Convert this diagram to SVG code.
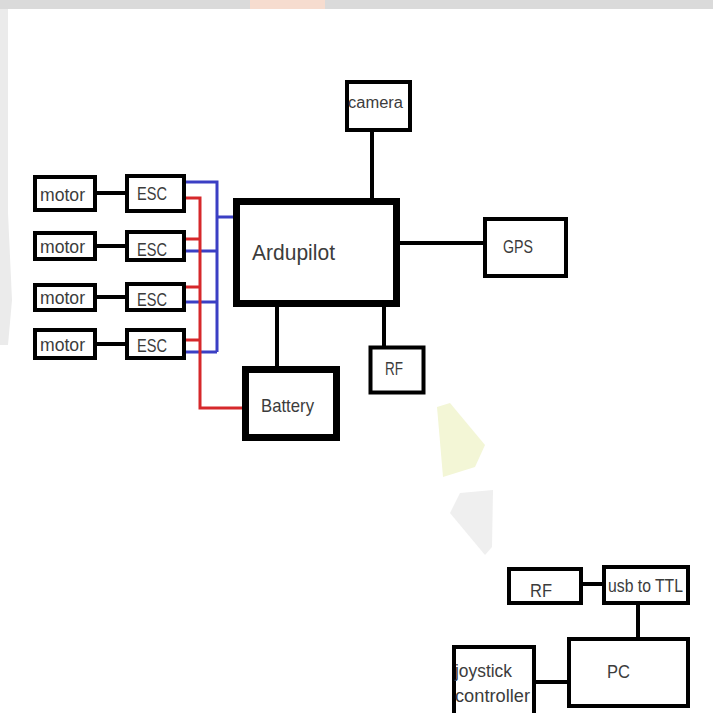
<svg xmlns="http://www.w3.org/2000/svg" width="713" height="713" viewBox="0 0 713 713">
<style>
.box{fill:#fff;stroke:#000;stroke-width:4}
.thick{fill:#fff;stroke:#000;stroke-width:7}
.lbl{font-family:"Liberation Sans",Arial,sans-serif;fill:#3c3c3c}
.blk{stroke:#000;stroke-width:4;fill:none}
.blue{stroke:#3b3fc4;stroke-width:3;fill:none}
.red{stroke:#d6282b;stroke-width:3;fill:none}
</style>
<rect x="0" y="0" width="713" height="713" fill="#fff"/>
<g id="watermark">
<rect x="0" y="0" width="713" height="9" fill="#dadada"/>
<rect x="250" y="0" width="75" height="9" fill="#f6dccf"/>
<path d="M0,9 H8 V213 L12,300 L8,345 H0 Z" fill="#ebebeb"/>
<path d="M437,407 L450,403 L485,445 L475,467 L443,477 Z" fill="#f3f6d6"/>
<path d="M460,493 L493,490 L492,547 L485,555 L450,513 Z" fill="#efefef"/>
</g>
<g id="connectors">
<path class="blk" d="M97,193 H125 M97,246 H125 M97,297 H125 M97,344 H125" stroke-width="3"/>
<path class="blue" d="M185,182 H217 V352 M185,251 H217 M185,302 H217 M185,352 H217 M217,217 H234"/>
<path class="red" d="M185,198 H200 V408 H243 M185,239 H200 M185,287 H200 M185,340 H200"/>
<path class="blk" d="M372,132 V198"/>
<path class="blk" d="M400,243 H483"/>
<path class="blk" d="M277,307 V366" stroke-width="7"/>
<path class="blk" d="M384,307 V346" stroke-width="3"/>
<path class="blk" d="M583,584 H602"/>
<path class="blk" d="M638,605 V637"/>
<path class="blk" d="M536,682 H567" stroke-width="5"/>
</g>
<g id="motor1"><rect class="box" x="35" y="177" width="60" height="33"/><text class="lbl" x="40" y="201" font-size="18" textLength="45" lengthAdjust="spacingAndGlyphs">motor</text></g>
<g id="motor2"><rect class="box" x="35" y="233" width="60" height="26"/><text class="lbl" x="40" y="253" font-size="18" textLength="45" lengthAdjust="spacingAndGlyphs">motor</text></g>
<g id="motor3"><rect class="box" x="35" y="285" width="60" height="25"/><text class="lbl" x="40" y="304" font-size="18" textLength="45" lengthAdjust="spacingAndGlyphs">motor</text></g>
<g id="motor4"><rect class="box" x="35" y="330" width="60" height="28"/><text class="lbl" x="40" y="351" font-size="18" textLength="45" lengthAdjust="spacingAndGlyphs">motor</text></g>
<g id="esc1"><rect class="box" x="127" y="176" width="57" height="35"/><text class="lbl" x="137" y="200" font-size="19" textLength="30" lengthAdjust="spacingAndGlyphs">ESC</text></g>
<g id="esc2"><rect class="box" x="127" y="232" width="57" height="28"/><text class="lbl" x="137" y="256" font-size="19" textLength="30" lengthAdjust="spacingAndGlyphs">ESC</text></g>
<g id="esc3"><rect class="box" x="127" y="284" width="57" height="26"/><text class="lbl" x="137" y="306" font-size="19" textLength="30" lengthAdjust="spacingAndGlyphs">ESC</text></g>
<g id="esc4"><rect class="box" x="127" y="330" width="57" height="28"/><text class="lbl" x="137" y="352" font-size="19" textLength="30" lengthAdjust="spacingAndGlyphs">ESC</text></g>
<g id="ardupilot"><rect class="thick" x="236.5" y="201.5" width="160" height="102"/><text class="lbl" x="252" y="260" font-size="22" textLength="83" lengthAdjust="spacingAndGlyphs">Ardupilot</text></g>
<g id="camera"><rect class="box" x="347" y="82" width="63" height="48"/><text class="lbl" x="348" y="108" font-size="16" textLength="55" lengthAdjust="spacingAndGlyphs">camera</text></g>
<g id="gps"><rect class="box" x="485" y="219" width="81" height="57"/><text class="lbl" x="503" y="253" font-size="18" textLength="30" lengthAdjust="spacingAndGlyphs">GPS</text></g>
<g id="battery"><rect class="thick" x="245.5" y="369.5" width="91" height="68"/><text class="lbl" x="261" y="412" font-size="19" textLength="53" lengthAdjust="spacingAndGlyphs">Battery</text></g>
<g id="rf-drone"><rect class="box" x="370.5" y="347.5" width="53" height="45" stroke-width="3"/><text class="lbl" x="385" y="375" font-size="19" textLength="18" lengthAdjust="spacingAndGlyphs">RF</text></g>
<g id="rf-ground"><rect class="box" x="509" y="569" width="72" height="34"/><text class="lbl" x="530" y="597" font-size="19" textLength="22" lengthAdjust="spacingAndGlyphs">RF</text></g>
<g id="usb-ttl"><rect class="box" x="604" y="567" width="84" height="36"/><text class="lbl" x="608" y="592" font-size="19" textLength="75" lengthAdjust="spacingAndGlyphs">usb to TTL</text></g>
<g id="pc"><rect class="box" x="569" y="639" width="119" height="67"/><text class="lbl" x="607" y="678" font-size="18" textLength="23" lengthAdjust="spacingAndGlyphs">PC</text></g>
<g id="joystick"><rect class="box" x="454" y="647" width="80" height="80"/><text class="lbl" x="455" y="677" font-size="18" textLength="57" lengthAdjust="spacingAndGlyphs">joystick</text><text class="lbl" x="455" y="702" font-size="18" textLength="75" lengthAdjust="spacingAndGlyphs">controller</text></g>
</svg>
